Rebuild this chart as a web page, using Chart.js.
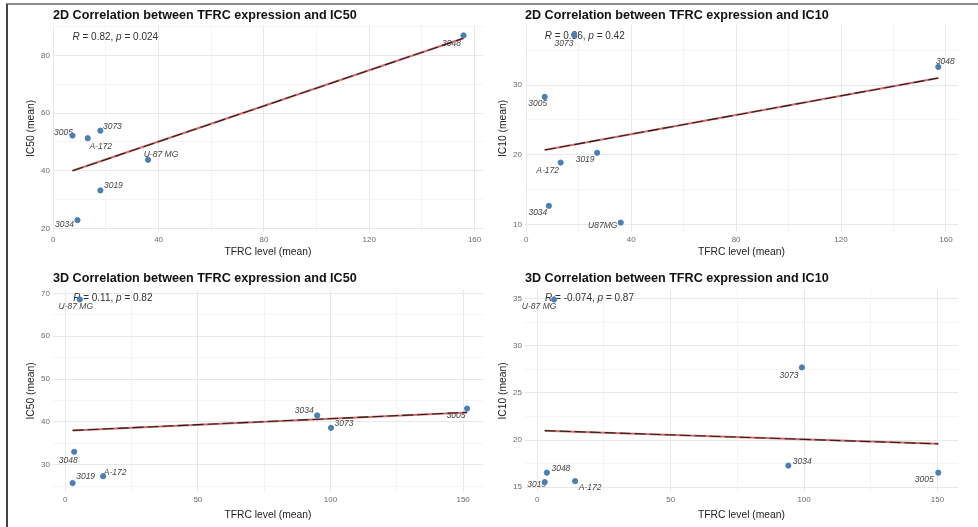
<!DOCTYPE html>
<html>
<head>
<meta charset="utf-8">
<script src="https://cdn.jsdelivr.net/npm/chart.js@4.4.1/dist/chart.umd.min.js"></script>
<style>
  body { margin: 0; background: #fff; width: 978px; height: 527px; position: relative; overflow: hidden; }
  canvas { position: absolute; }
  #frame { position: absolute; left: 6px; top: 3px; width: 990px; height: 540px;
           border-top: 2px solid #8c8c8c; border-left: 2px solid #444; pointer-events: none; }
</style>
</head>
<body>
<canvas id="p1" width="489" height="262" style="left:0;top:0"></canvas>
<canvas id="p2" width="489" height="262" style="left:489px;top:0"></canvas>
<canvas id="p3" width="489" height="265" style="left:0;top:262px"></canvas>
<canvas id="p4" width="489" height="265" style="left:489px;top:262px"></canvas>
<div id="frame"></div>
<script>
// ---- data ----
// 2D, IC50
const lines2D50 = ['3048', '3005', 'A-172', '3073', 'U-87 MG', '3019', '3034'];
const tfrc2D50 = [155.8, 7.3, 13.1, 17.9, 36.0, 17.9, 9.2];
const ic50_2D = [86.9, 52.2, 51.3, 53.9, 43.8, 33.2, 22.9];
const fitX2D50 = [7.3, 155.8];
const fitY2D50 = [40.0, 85.9];

// 2D, IC10
const lines2D10 = ['3048', '3073', '3005', 'A-172', '3019', '3034', 'U87MG'];
const tfrc2D10 = [157.1, 18.2, 7.0, 13.1, 27.0, 8.6, 36.0];
const ic10_2D = [32.6, 37.2, 28.3, 18.9, 20.3, 12.7, 10.3];
const fitX2D10 = [7.0, 157.1];
const fitY2D10 = [20.7, 31.0];

// 3D, IC50
const lines3D50 = ['U-87 MG', '3005', '3034', '3073', '3048', '3019', 'A-172'];
const tfrc3D50 = [5.5, 151.5, 95.0, 100.2, 3.4, 2.8, 14.3];
const ic50_3D = [68.6, 43.1, 41.5, 38.6, 33.0, 25.7, 27.3];
const fitX3D50 = [2.8, 151.5];
const fitY3D50 = [38.0, 42.2];

// 3D, IC10
const lines3D10 = ['U-87 MG', '3073', '3034', '3005', '3048', '3019', 'A-172'];
const tfrc3D10 = [6.3, 99.2, 94.1, 150.3, 3.6, 2.8, 14.2];
const ic10_3D = [34.9, 27.7, 17.3, 16.55, 16.55, 15.55, 15.65];
const fitX3D10 = [2.8, 150.3];
const fitY3D10 = [21.0, 19.6];

// tick labels
const xTicks2D = [0, 40, 80, 120, 160];
const xTicks3D = [0, 50, 100, 150];
const yTicks2D50 = [20, 40, 60, 80];
const yTicks2D10 = [10, 20, 30];
const yTicks3D50 = [30, 40, 50, 60, 70];
const yTicks3D10 = [15, 20, 25, 30, 35];

const FONT = '"Liberation Sans", Arial, sans-serif';

// labels of cell lines and the R / p text, drawn under the points
const annotate = {
  id: 'annotate',
  beforeDatasetsDraw(chart, args, o) {
    const ctx = chart.ctx, xs = chart.scales.x, ys = chart.scales.y;
    ctx.save();
    ctx.textBaseline = 'middle';
    // correlation text
    let x = xs.getPixelForValue(o.corAt[0]);
    const y = ys.getPixelForValue(o.corAt[1]);
    ctx.fillStyle = '#333';
    ctx.textAlign = 'left';
    o.cor.forEach(([t, it]) => {
      ctx.font = (it ? 'italic ' : '') + '10px ' + FONT;
      ctx.fillText(t, x, y);
      x += ctx.measureText(t).width;
    });
    // point labels
    ctx.font = 'italic 8.5px ' + FONT;
    ctx.fillStyle = '#444';
    ctx.textAlign = 'center';
    o.names.forEach((n, i) => {
      const px = xs.getPixelForValue(o.xv[i]);
      const py = ys.getPixelForValue(o.yv[i]);
      ctx.fillText(n, px + o.offsets[i][0], py + o.offsets[i][1]);
    });
    ctx.restore();
  }
};

function withMinor(majors, min, max) {
  const step = majors[1] - majors[0];
  const out = [];
  for (let v = majors[0] - step / 2; v <= max; v += step / 2) {
    if (v >= min) out.push({ value: v });
  }
  return out;
}

function axis(majors, min, max, extra) {
  return Object.assign({
    type: 'linear',
    min: min,
    max: max,
    afterBuildTicks: s => { s.ticks = withMinor(majors, min, max); },
    ticks: {
      autoSkip: false,
      maxRotation: 0,
      color: '#6a6a6a',
      font: { family: FONT, size: 8 },
      callback: v => majors.includes(v) ? String(v) : ''
    },
    grid: {
      drawTicks: false,
      lineWidth: 1,
      color: c => (c.tick && majors.includes(c.tick.value)) ? '#e8e8e8' : '#f4f4f4'
    },
    border: { display: false }
  }, extra);
}

function panel(id, p) {
  const pts = p.x.map((v, i) => ({ x: v, y: p.y[i] }));
  const fit = p.fitX.map((v, i) => ({ x: v, y: p.fitY[i] }));
  const bottomRow = p.row === 2;
  return new Chart(document.getElementById(id), {
    type: 'scatter',
    data: {
      // first dataset is painted last, so points sit on top, then the dashed dark line over the red one
      datasets: [
        { data: pts, backgroundColor: '#4a7fb3', borderColor: '#4a7fb3', pointRadius: 2.6, pointHoverRadius: 2.6 },
        { data: fit, showLine: true, pointRadius: 0, borderColor: '#222', borderWidth: 1.1, borderDash: [11, 4] },
        { data: fit, showLine: true, pointRadius: 0, borderColor: '#d66a6a', borderWidth: 2 }
      ]
    },
    options: {
      responsive: false,
      animation: false,
      devicePixelRatio: 1,
      layout: { autoPadding: false, padding: { left: p.padL, right: p.padR, top: 0, bottom: 0 } },
      plugins: {
        legend: { display: false },
        tooltip: { enabled: false },
        title: {
          display: true,
          text: p.title,
          align: 'start',
          fullSize: false,
          color: '#111',
          font: { family: FONT, size: 12.6, weight: 'bold' },
          padding: bottomRow ? { top: 9.4, bottom: 3.5 } : { top: 8.4, bottom: 1.5 }
        },
        annotate: { names: p.names, xv: p.x, yv: p.y, offsets: p.offsets, corAt: p.corAt, cor: p.cor }
      },
      scales: {
        x: axis(p.xTicks, p.xMin, p.xMax, {
          title: { display: true, text: 'TFRC level (mean)', color: '#222', font: { family: FONT, size: 10.3 },
                   padding: { top: 0, bottom: bottomRow ? 5.8 : 3.8 } },
          afterFit: s => { s.height = bottomRow ? 35 : 30; }
        }),
        y: axis(p.yTicks, p.yMin, p.yMax, {
          title: { display: true, text: p.yTitle, color: '#222', font: { family: FONT, size: 10.3 },
                   padding: { top: p.yTitlePad, bottom: 0 } },
          afterFit: s => { s.width = p.yW; }
        })
      }
    },
    plugins: [annotate]
  });
}

panel('p1', {
  row: 1, title: '2D Correlation between TFRC expression and IC50', yTitle: 'IC50 (mean)',
  names: lines2D50, x: tfrc2D50, y: ic50_2D, fitX: fitX2D50, fitY: fitY2D50,
  xTicks: xTicks2D, yTicks: yTicks2D50, xMin: -0.1, xMax: 163.2, yMin: 18.8, yMax: 90.5,
  padL: 18, padR: 6, yW: 35, yTitlePad: 7.4,
  offsets: [[-12, 8], [-9, -3], [13, 8], [12, -4], [13, -5], [13, -5], [-13, 4]],
  corAt: [7.3, 86.2], cor: [['R', 1], [' = 0.82, ', 0], ['p', 1], [' = 0.024', 0]]
});

panel('p2', {
  row: 1, title: '2D Correlation between TFRC expression and IC10', yTitle: 'IC10 (mean)',
  names: lines2D10, x: tfrc2D10, y: ic10_2D, fitX: fitX2D10, fitY: fitY2D10,
  xTicks: xTicks2D, yTicks: yTicks2D10, xMin: -0.5, xMax: 164.6, yMin: 8.95, yMax: 38.6,
  padL: 2, padR: 20, yW: 34, yTitlePad: 6.0,
  offsets: [[7, -5], [-10, 9], [-7, 7], [-13, 8], [-12, 7], [-11, 7], [-18, 3]],
  corAt: [7.0, 37.0], cor: [['R', 1], [' = 0.36, ', 0], ['p', 1], [' = 0.42', 0]]
});

panel('p3', {
  row: 2, title: '3D Correlation between TFRC expression and IC50', yTitle: 'IC50 (mean)',
  names: lines3D50, x: tfrc3D50, y: ic50_3D, fitX: fitX3D50, fitY: fitY3D50,
  xTicks: xTicks3D, yTicks: yTicks3D50, xMin: -4.6, xMax: 157.5, yMin: 23.6, yMax: 70.8,
  padL: 18, padR: 6, yW: 35, yTitlePad: 7.4,
  offsets: [[-4, 7], [-11, 7], [-13, -5], [13, -4], [-6, 9], [13, -6], [12, -4]],
  corAt: [3.0, 68.8], cor: [['R', 1], [' = 0.11, ', 0], ['p', 1], [' = 0.82', 0]]
});

panel('p4', {
  row: 2, title: '3D Correlation between TFRC expression and IC10', yTitle: 'IC10 (mean)',
  names: lines3D10, x: tfrc3D10, y: ic10_3D, fitX: fitX3D10, fitY: fitY3D10,
  xTicks: xTicks3D, yTicks: yTicks3D10, xMin: -4.6, xMax: 157.7, yMin: 14.5, yMax: 35.9,
  padL: 2, padR: 20, yW: 34, yTitlePad: 6.0,
  offsets: [[-15, 7], [-13, 8], [14, -4], [-14, 7], [14, -4], [-8, 3], [15, 6]],
  corAt: [2.9, 35.0], cor: [['R', 1], [' = -0.074, ', 0], ['p', 1], [' = 0.87', 0]]
});
</script>
</body>
</html>
